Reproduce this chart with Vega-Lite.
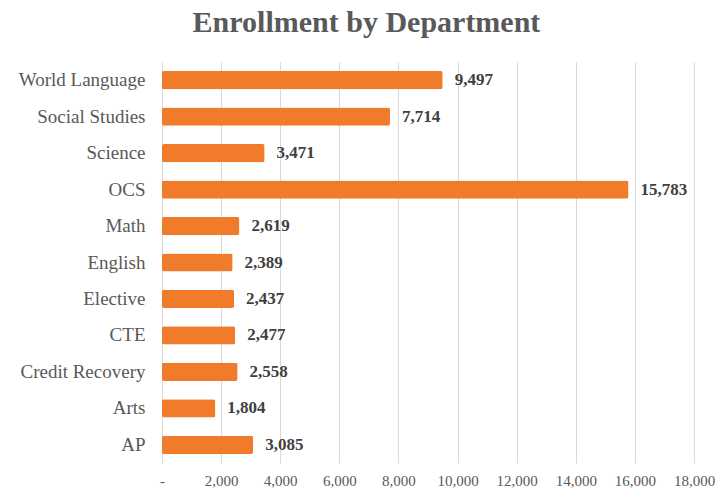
{
  "$schema": "https://vega.github.io/schema/vega-lite/v6.json",
  "width": 532,
  "height": 401,
  "padding": {"left": 18, "top": 8, "right": 18, "bottom": 5},
  "background": "white",
  "title": {
    "text": "Enrollment by Department",
    "font": "Liberation Serif",
    "fontSize": 30,
    "fontWeight": "bold",
    "color": "#595959",
    "anchor": "middle",
    "frame": "bounds",
    "offset": 24
  },
  "data": {
    "values": [
      {"dept": "World Language", "enrollment": 9497},
      {"dept": "Social Studies", "enrollment": 7714},
      {"dept": "Science", "enrollment": 3471},
      {"dept": "OCS", "enrollment": 15783},
      {"dept": "Math", "enrollment": 2619},
      {"dept": "English", "enrollment": 2389},
      {"dept": "Elective", "enrollment": 2437},
      {"dept": "CTE", "enrollment": 2477},
      {"dept": "Credit Recovery", "enrollment": 2558},
      {"dept": "Arts", "enrollment": 1804},
      {"dept": "AP", "enrollment": 3085}
    ]
  },
  "encoding": {
    "y": {
      "field": "dept",
      "type": "nominal",
      "sort": null,
      "scale": {"paddingInner": 0.5, "paddingOuter": 0.25},
      "axis": {
        "title": null,
        "domain": false,
        "ticks": false,
        "labelFont": "Liberation Serif",
        "labelFontSize": 19,
        "labelColor": "#595959",
        "labelPadding": 17
      }
    },
    "x": {
      "field": "enrollment",
      "type": "quantitative",
      "scale": {"domain": [0, 18000], "nice": false},
      "axis": {
        "title": null,
        "domain": false,
        "ticks": false,
        "labelFlush": false,
        "values": [0, 2000, 4000, 6000, 8000, 10000, 12000, 14000, 16000, 18000],
        "labelExpr": "datum.value == 0 ? '-' : format(datum.value, ',')",
        "labelFont": "Liberation Serif",
        "labelFontSize": 15,
        "labelColor": "#595959",
        "labelPadding": 10,
        "gridColor": "#d9d9d9",
        "gridWidth": 1
      }
    }
  },
  "layer": [
    {
      "mark": {"type": "bar", "color": "#F07B2B", "cornerRadius": 2}
    },
    {
      "mark": {
        "type": "text",
        "align": "left",
        "baseline": "middle",
        "dx": 12,
        "font": "Liberation Serif",
        "fontSize": 17,
        "fontWeight": "bold",
        "color": "#404040"
      },
      "encoding": {
        "text": {"field": "enrollment", "type": "quantitative", "format": ","}
      }
    }
  ],
  "config": {"view": {"stroke": null}}
}
